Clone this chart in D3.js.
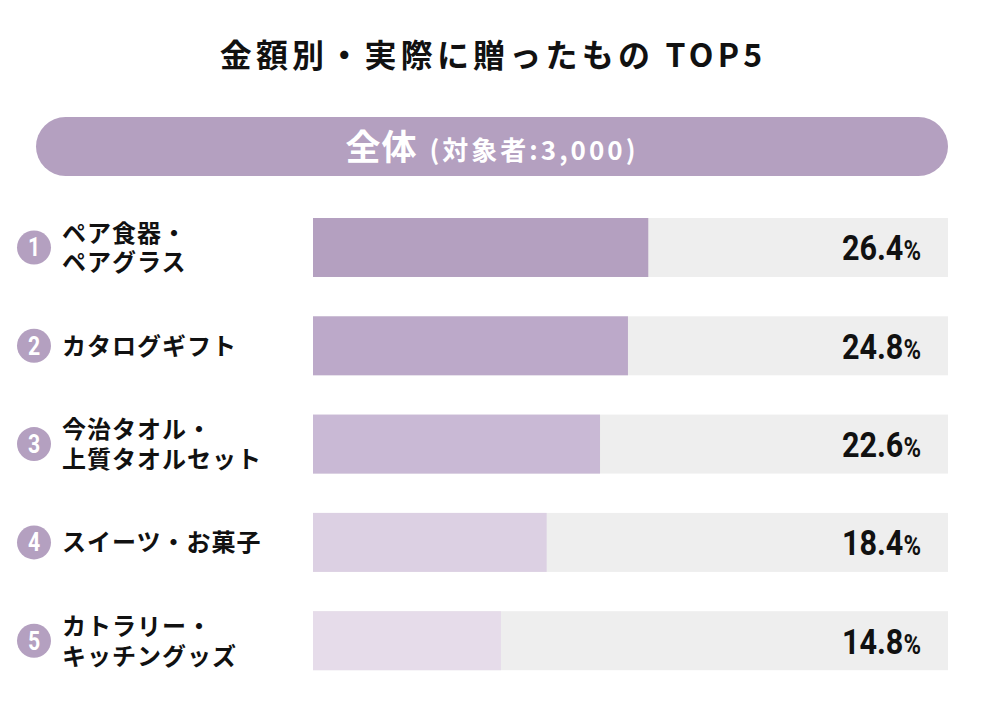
<!DOCTYPE html>
<html>
<head>
<meta charset="utf-8">
<script src="https://cdn.jsdelivr.net/npm/d3@7"></script>
<style>
  body { margin: 0; background: #fff; }
  text { font-family: "Noto Sans CJK JP", "Noto Sans", sans-serif; }
</style>
</head>
<body>
<script>
// data
var ranks = [1, 2, 3, 4, 5];
var labels = [
	["ペア食器・", "ペアグラス"],
	["カタログギフト"],
	["今治タオル・", "上質タオルセット"],
	["スイーツ・お菓子"],
	["カトラリー・", "キッチングッズ"]
];
var values = [26.4, 24.8, 22.6, 18.4, 14.8];
var barColors = ["#b4a0c0", "#bca9c9", "#c9b9d5", "#dcd0e3", "#e6dcea"];

var width = 983, height = 726;

var svg = d3.select("body").append("svg")
	.attr("width", width)
	.attr("height", height);

// title
svg.append("text")
	.attr("x", 493)
	.attr("y", 67)
	.attr("text-anchor", "middle")
	.attr("font-size", 32)
	.attr("font-weight", 700)
	.attr("letter-spacing", 4.2)
	.attr("fill", "#111")
	.text("金額別・実際に贈ったもの TOP5");

// header pill
svg.append("rect")
	.attr("x", 36)
	.attr("y", 117)
	.attr("width", 912)
	.attr("height", 59)
	.attr("rx", 29.5)
	.attr("fill", "#b4a0c0");

var head = svg.append("text")
	.attr("x", 492)
	.attr("y", 160)
	.attr("text-anchor", "middle")
	.attr("fill", "#fff")
	.attr("font-weight", 700);
head.append("tspan").attr("font-size", 35).attr("letter-spacing", 1).text("全体");
head.append("tspan").attr("font-size", 26).attr("dx", 12).attr("letter-spacing", 3).text("(対象者:3,000)");

// scales
var x = d3.scaleLinear()
	.domain([0, 50])
	.range([313, 948]);

var y = d3.scaleBand()
	.domain(ranks)
	.range([218, 218 + 4 * 98.3 + 59])
	.paddingInner(0.4)
	.paddingOuter(0);

var rows = svg.selectAll("g.row")
	.data(ranks)
	.enter()
	.append("g")
	.attr("class", "row")
	.attr("transform", function(d) { return "translate(0," + y(d) + ")"; });

// background track
rows.append("rect")
	.attr("x", x(0))
	.attr("y", 0)
	.attr("width", x(50) - x(0))
	.attr("height", y.bandwidth())
	.attr("fill", "#eeeeee");

// value bar
rows.append("rect")
	.attr("x", x(0))
	.attr("y", 0)
	.attr("width", function(d, i) { return x(values[i]) - x(0); })
	.attr("height", y.bandwidth())
	.attr("fill", function(d, i) { return barColors[i]; });

// value label (condensed look)
var vl = rows.append("text")
	.attr("transform", "translate(921," + (y.bandwidth() / 2 + 13) + ") scale(0.85,1)")
	.attr("text-anchor", "end")
	.attr("fill", "#111")
	.attr("font-weight", 700)
	.style("font-family", "Roboto, sans-serif");
vl.append("tspan").attr("font-size", 36).text(function(d, i) { return values[i].toFixed(1); });
vl.append("tspan").attr("font-size", 28).text("%");

// rank circle
rows.append("circle")
	.attr("cx", 34)
	.attr("cy", y.bandwidth() / 2)
	.attr("r", 17)
	.attr("fill", "#b4a0c0");

rows.append("text")
	.attr("transform", "translate(34," + (y.bandwidth() / 2 + 9) + ") scale(0.85,1)")
	.attr("text-anchor", "middle")
	.attr("fill", "#fff")
	.attr("font-size", 25)
	.attr("font-weight", 700)
	.style("font-family", "Roboto, sans-serif")
	.text(function(d) { return d; });

// category label, one text per line
rows.each(function(d, i) {
	var g = d3.select(this);
	var lines = labels[i];
	var mid = y.bandwidth() / 2;
	var lh = 30;
	var start = mid - (lines.length - 1) * lh / 2 + 9;
	lines.forEach(function(l, j) {
		g.append("text")
			.attr("x", 62)
			.attr("y", start + j * lh)
			.attr("font-size", 24)
			.attr("font-weight", 700)
			.attr("fill", "#111")
			.attr("letter-spacing", 1)
			.text(l);
	});
});
</script>
</body>
</html>
